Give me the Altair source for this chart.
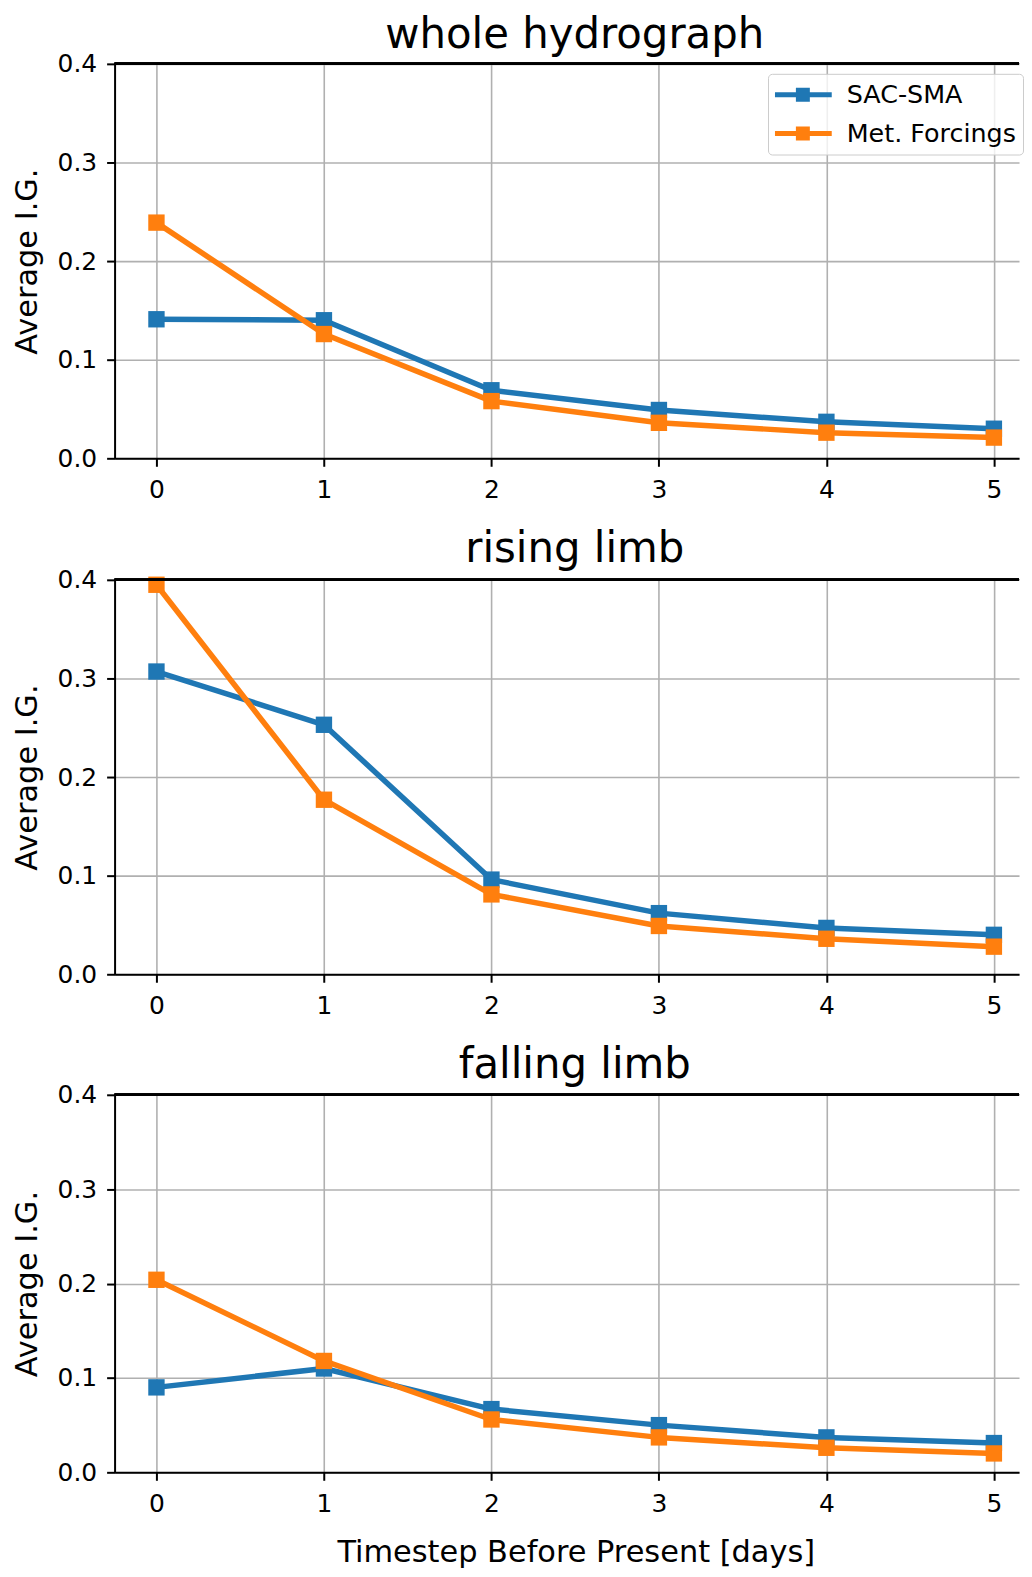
import altair as alt
import pandas as pd

FONT = "DejaVu Sans"

steps = [0, 1, 2, 3, 4, 5]
series_names = ["SAC-SMA", "Met. Forcings"]
series_colors = ["#1f77b4", "#ff7f0e"]
panel_titles = ["whole hydrograph", "rising limb", "falling limb"]
y_ticks = [0.0, 0.1, 0.2, 0.3, 0.4]
y_max = 0.4

whole_sac = [0.141, 0.140, 0.069, 0.049, 0.037, 0.030]
whole_met = [0.239, 0.126, 0.058, 0.036, 0.026, 0.021]
rising_sac = [0.307, 0.253, 0.096, 0.062, 0.047, 0.040]
rising_met = [0.395, 0.177, 0.081, 0.049, 0.036, 0.028]
falling_sac = [0.090, 0.110, 0.067, 0.050, 0.037, 0.031]
falling_met = [0.204, 0.118, 0.056, 0.037, 0.026, 0.020]

LEGEND_PATH = "M-1,-0.18H3.07V0.18H-1Z M0.5,-0.5H1.5V0.5H0.5Z"
PLOT_W = 908


def panel(title, sac, met, height, show_legend, show_xtitle, title_offset):
    df = pd.DataFrame({
        "step": steps * 2,
        "value": sac + met,
        "series": [series_names[0]] * len(steps) + [series_names[1]] * len(steps),
    })
    xscale = alt.Scale(domain=[-0.25, 5.15], nice=False, zero=False)
    yscale = alt.Scale(domain=[0, y_max], nice=False, zero=False)
    cscale = alt.Scale(domain=series_names, range=series_colors)
    if show_legend:
        legend = alt.Legend(
            title=None, orient="none", legendX=656, legendY=10,
            symbolType=LEGEND_PATH, symbolSize=784, symbolStrokeWidth=0,
            symbolOpacity=1, labelFont=FONT, labelFontSize=25.5,
            labelColor="black", labelOffset=44, labelLimit=400,
            rowPadding=11, padding=7, strokeColor="#cccccc",
            fillColor="rgba(255,255,255,0.8)", cornerRadius=4,
        )
    else:
        legend = None
    bottom_axis = alt.Axis(
        values=steps, format="d", grid=True, ticks=True,
        title="Timestep Before Present [days]" if show_xtitle else None,
        labelPadding=11, titlePadding=22, titleX=PLOT_W / 2 + 9,
    )
    left_axis = alt.Axis(
        values=y_ticks, format=".1f", grid=True, ticks=True,
        title="Average I.G.", labelPadding=10, titlePadding=15,
    )
    X = alt.X("step:Q", scale=xscale, axis=bottom_axis)
    Y = alt.Y("value:Q", scale=yscale, axis=left_axis)
    layers = []
    for i, name in enumerate(series_names):
        sub = alt.Chart(df).transform_filter(alt.datum.series == name)
        line = sub.mark_line(
            strokeWidth=5.5, strokeJoin="round", color=series_colors[i]
        ).encode(x=X, y=Y)
        pts = sub.mark_point(shape="square", filled=True, size=270, opacity=1).encode(
            x=X, y=Y,
            color=alt.Color("series:N", scale=cscale, legend=legend),
        )
        layers += [line, pts]
    top_spine = alt.Chart(df).mark_rule(color="black", strokeWidth=2).encode(
        y=alt.datum(y_max, scale=yscale, axis=left_axis)
    )
    layers.append(top_spine)
    return alt.layer(*layers).properties(
        width=PLOT_W, height=height,
        title=alt.TitleParams(
            title, font=FONT, fontSize=42, fontWeight="normal",
            color="black", offset=title_offset, anchor="middle",
            frame="group", dx=8,
        ),
    )


p1 = panel(panel_titles[0], whole_sac, whole_met, 396, True, False, -5)
p2 = panel(panel_titles[1], rising_sac, rising_met, 396, False, False, -3)
p3 = panel(panel_titles[2], falling_sac, falling_met, 379, False, True, -4)

chart = (
    alt.vconcat(p1, p2, p3, spacing=26)
    .resolve_scale(color="independent")
    .resolve_legend(color="independent")
    .properties(padding={"left": 4, "top": 3, "right": 0, "bottom": 0})
    .configure(font=FONT)
    .configure_view(stroke=None)
    .configure_axis(
        domainColor="black", domainWidth=2, tickColor="black", tickWidth=2,
        tickSize=8, labelFont=FONT, labelFontSize=25, labelColor="black",
        titleFont=FONT, titleFontSize=30.5, titleFontWeight="normal",
        titleColor="black", gridColor="#b0b0b0", gridWidth=1.6,
    )
)

chart.save("out.html", embed_options={"renderer": "svg", "actions": False})
